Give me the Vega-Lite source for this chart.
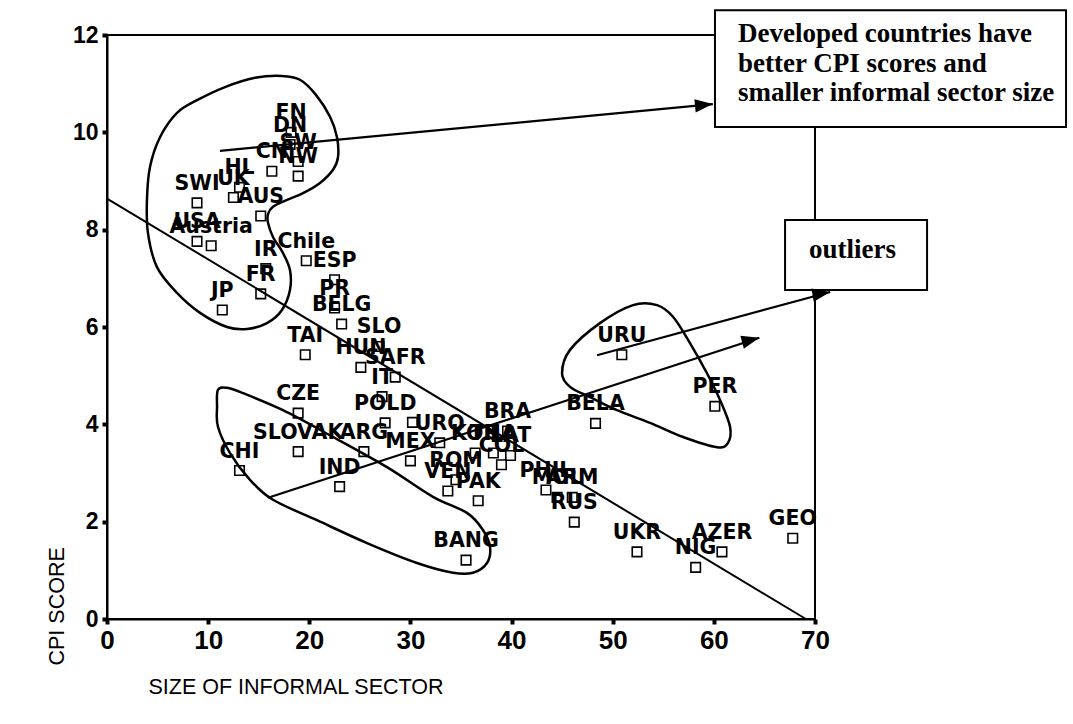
{
 "$schema": "https://vega.github.io/schema/vega-lite/v6.json",
 "width": 708, "height": 584,
 "autosize": {"type": "none"},
 "padding": {"left": 107, "top": 35, "right": 258, "bottom": 105},
 "background": "white",
 "config": {"view": {"stroke": "black", "strokeWidth": 2}},
 "datasets": {
  "pts": [
   {"c":"FN","x":18.2,"y":10.0},{"c":"DN","x":18.1,"y":9.75},{"c":"SW","x":18.9,"y":9.4},{"c":"CN","x":16.3,"y":9.2},{"c":"NW","x":18.9,"y":9.1},
   {"c":"HL","x":13.1,"y":8.87},{"c":"UK","x":12.5,"y":8.66},{"c":"SWI","x":8.9,"y":8.55},{"c":"AUS","x":15.2,"y":8.28},{"c":"USA","x":8.9,"y":7.76},
   {"c":"Austria","x":10.3,"y":7.67},{"c":"Chile","x":19.7,"y":7.36},{"c":"IR","x":15.7,"y":7.2},{"c":"ESP","x":22.5,"y":6.97},{"c":"FR","x":15.2,"y":6.68},
   {"c":"PR","x":22.5,"y":6.39},{"c":"JP","x":11.4,"y":6.35},{"c":"BELG","x":23.2,"y":6.06},{"c":"TAI","x":19.6,"y":5.43},{"c":"SLO","x":26.9,"y":5.6},
   {"c":"HUN","x":25.1,"y":5.17},{"c":"SAFR","x":28.5,"y":4.97},{"c":"IT","x":27.2,"y":4.57},{"c":"CZE","x":18.9,"y":4.23},{"c":"POLD","x":27.5,"y":4.03},
   {"c":"URU","x":50.9,"y":5.43},{"c":"PER","x":60.1,"y":4.37},{"c":"BELA","x":48.3,"y":4.02},{"c":"SLOVAK","x":18.9,"y":3.44},{"c":"ARG","x":25.4,"y":3.44},
   {"c":"CHI","x":13.1,"y":3.05},{"c":"IND","x":23.0,"y":2.72},{"c":"MEX","x":30.0,"y":3.25},{"c":"ROM","x":34.5,"y":2.86},{"c":"VEN","x":33.7,"y":2.63},
   {"c":"PAK","x":36.7,"y":2.43},{"c":"BANG","x":35.5,"y":1.21},{"c":"PHIL","x":43.4,"y":2.65},{"c":"RUS","x":46.2,"y":1.99},{"c":"UKR","x":52.4,"y":1.38},
   {"c":"NIG","x":58.2,"y":1.06},{"c":"AZER","x":60.8,"y":1.38},{"c":"GEO","x":67.8,"y":1.66},{"c":"URO","x":32.9,"y":3.62},{"c":"BRA","x":39.6,"y":3.86},
   {"c":"KOR","x":36.4,"y":3.41},{"c":"THA","x":38.2,"y":3.41},{"c":"LAT","x":39.9,"y":3.36},{"c":"COL","x":39.0,"y":3.17},{"c":"","x":30.2,"y":4.04},
   {"c":"MOL","x":44.5,"y":2.5},{"c":"ARM","x":46.0,"y":2.5}
  ],
  "loops": [
   {"g":1,"i":1,"x":17.3,"y":11.16},{"g":1,"i":2,"x":19.08,"y":11.08},{"g":1,"i":3,"x":20.66,"y":10.77},{"g":1,"i":4,"x":22.05,"y":10.32},{"g":1,"i":5,"x":22.74,"y":9.9},
   {"g":1,"i":6,"x":22.84,"y":9.49},{"g":1,"i":7,"x":22.35,"y":9.23},{"g":1,"i":8,"x":21.06,"y":8.96},{"g":1,"i":9,"x":19.38,"y":8.75},{"g":1,"i":10,"x":17.8,"y":8.61},
   {"g":1,"i":11,"x":16.41,"y":8.47},{"g":1,"i":12,"x":15.92,"y":8.32},{"g":1,"i":13,"x":15.92,"y":8.14},{"g":1,"i":14,"x":16.41,"y":7.85},{"g":1,"i":15,"x":17.4,"y":7.52},
   {"g":1,"i":16,"x":18.09,"y":7.17},{"g":1,"i":17,"x":18.09,"y":6.76},{"g":1,"i":18,"x":17.3,"y":6.35},{"g":1,"i":19,"x":15.82,"y":6.08},{"g":1,"i":20,"x":13.84,"y":5.96},
   {"g":1,"i":21,"x":11.86,"y":6.0},{"g":1,"i":22,"x":9.2,"y":6.29},{"g":1,"i":23,"x":6.92,"y":6.7},{"g":1,"i":24,"x":4.94,"y":7.23},{"g":1,"i":25,"x":4.05,"y":7.93},
   {"g":1,"i":26,"x":3.95,"y":8.61},{"g":1,"i":27,"x":4.25,"y":9.29},{"g":1,"i":28,"x":5.24,"y":9.9},{"g":1,"i":29,"x":6.92,"y":10.4},{"g":1,"i":30,"x":8.9,"y":10.66},
   {"g":1,"i":31,"x":11.67,"y":10.93},{"g":1,"i":32,"x":14.63,"y":11.12},
   {"g":2,"i":1,"x":10.97,"y":4.71},{"g":2,"i":2,"x":11.86,"y":4.75},{"g":2,"i":3,"x":13.45,"y":4.64},{"g":2,"i":4,"x":17.4,"y":4.29},{"g":2,"i":5,"x":22.35,"y":3.74},
   {"g":2,"i":6,"x":27.68,"y":3.12},{"g":2,"i":7,"x":32.23,"y":2.51},{"g":2,"i":8,"x":35.59,"y":2.18},{"g":2,"i":9,"x":37.17,"y":1.83},{"g":2,"i":10,"x":37.87,"y":1.48},
   {"g":2,"i":11,"x":37.57,"y":1.15},{"g":2,"i":12,"x":36.19,"y":0.95},{"g":2,"i":13,"x":34.21,"y":0.95},{"g":2,"i":14,"x":30.65,"y":1.15},{"g":2,"i":15,"x":25.71,"y":1.56},
   {"g":2,"i":16,"x":20.76,"y":2.03},{"g":2,"i":17,"x":16.41,"y":2.45},{"g":2,"i":18,"x":14.14,"y":2.86},{"g":2,"i":19,"x":12.16,"y":3.41},{"g":2,"i":20,"x":10.97,"y":3.95},
   {"g":2,"i":21,"x":10.88,"y":4.36},
   {"g":3,"i":1,"x":54.38,"y":6.45},{"g":3,"i":2,"x":55.96,"y":6.21},{"g":3,"i":3,"x":57.64,"y":5.67},{"g":3,"i":4,"x":59.32,"y":5.05},{"g":3,"i":5,"x":60.61,"y":4.5},
   {"g":3,"i":6,"x":61.6,"y":3.95},{"g":3,"i":7,"x":61.4,"y":3.62},{"g":3,"i":8,"x":60.31,"y":3.53},{"g":3,"i":9,"x":56.95,"y":3.74},{"g":3,"i":10,"x":53.69,"y":4.03},
   {"g":3,"i":11,"x":50.43,"y":4.29},{"g":3,"i":12,"x":47.76,"y":4.56},{"g":3,"i":13,"x":45.78,"y":4.77},{"g":3,"i":14,"x":44.99,"y":5.05},{"g":3,"i":15,"x":45.78,"y":5.53},
   {"g":3,"i":16,"x":48.74,"y":6.08},{"g":3,"i":17,"x":52.01,"y":6.45}
  ],
  "fit": [{"x":0,"y":8.64},{"x":69.1,"y":0}],
  "arrows": [
   {"a":"a1","x":11.17,"y":9.62,"x2":59.9,"y2":10.58},
   {"a":"a2","x":48.45,"y":5.42,"x2":71.5,"y2":6.72},
   {"a":"a3","x":15.92,"y":2.49,"x2":64.5,"y2":5.78}
  ],
  "boxes": [
   {"b":"b1","x":60.11,"x2":94.82,"y":12.51,"y2":10.11},
   {"b":"b2","x":67.04,"x2":81.08,"y":8.2,"y2":6.76}
  ],
  "boxtext": [
   {"t":"Developed countries have","x":62.39,"y":11.86},
   {"t":"better CPI scores and","x":62.39,"y":11.24},
   {"t":"smaller informal sector size","x":62.39,"y":10.64},
   {"t":"outliers","x":69.4,"y":7.42}
  ]
 },
 "encoding": {
  "x": {"field": "x", "type": "quantitative", "scale": {"domain": [0, 70], "nice": false, "zero": false},
   "axis": {"values": [0,10,20,30,40,50,60,70], "title": "SIZE OF INFORMAL SECTOR", "titleFont": "Liberation Sans", "titleFontSize": 21.5, "titleFontWeight": "normal", "titleColor": "black",
    "titleAnchor": "start", "titleAlign": "left", "titleBaseline": "alphabetic", "titleX": 41, "titleY": 74,
    "labelFont": "Liberation Sans", "labelFontSize": 26, "labelFontWeight": "bold", "labelColor": "black", "labelPadding": 3, "labelFlush": false, "labelOverlap": false,
    "domainColor": "black", "domainWidth": 2, "tickColor": "black", "tickWidth": 4, "tickSize": 5, "grid": false}},
  "y": {"field": "y", "type": "quantitative", "scale": {"domain": [0, 12], "nice": false, "zero": false},
   "axis": {"values": [0,2,4,6,8,10,12], "title": "CPI SCORE", "titleFont": "Liberation Sans", "titleFontSize": 21.5, "titleFontWeight": "normal", "titleColor": "black",
    "titleAngle": 270, "titleAnchor": "start", "titleAlign": "left", "titleBaseline": "middle", "titleX": -50, "titleY": 630,
    "labelFont": "Liberation Sans", "labelFontSize": 23, "labelFontWeight": "bold", "labelColor": "black", "labelPadding": 4, "labelFlush": false, "labelOverlap": false,
    "domainColor": "black", "domainWidth": 2, "tickColor": "black", "tickWidth": 4, "tickSize": 5, "grid": false}}
 },
 "layer": [
  {"data": {"name": "loops"}, "mark": {"type": "line", "interpolate": "cardinal-closed", "stroke": "black", "strokeWidth": 2.5, "clip": false},
   "encoding": {"detail": {"field": "g"}, "order": {"field": "i", "type": "quantitative"}}},
  {"data": {"name": "fit"}, "mark": {"type": "line", "stroke": "black", "strokeWidth": 2}, "encoding": {}},
  {"data": {"name": "arrows"}, "mark": {"type": "rule", "stroke": "black", "strokeWidth": 2.2, "clip": false},
   "encoding": {"x2": {"field": "x2"}, "y2": {"field": "y2"}}},
  {"data": {"name": "pts"}, "mark": {"type": "point", "shape": "square", "size": 90, "filled": false, "stroke": "black", "strokeWidth": 1.6, "opacity": 1}, "encoding": {}},
  {"data": {"name": "pts"}, "mark": {"type": "text", "font": "DejaVu Sans", "fontWeight": "bold", "fontSize": 20.5, "align": "center", "baseline": "alphabetic", "dy": -13, "color": "black"},
   "encoding": {"text": {"field": "c"}}},
  {"data": {"name": "boxes"}, "mark": {"type": "rect", "fill": "white", "stroke": "black", "strokeWidth": 2, "clip": false},
   "encoding": {"x2": {"field": "x2"}, "y2": {"field": "y2"}}},
  {"data": {"name": "boxtext"}, "mark": {"type": "text", "font": "Liberation Serif", "fontSize": 27, "fontWeight": "bold", "align": "left", "baseline": "alphabetic", "color": "black", "clip": false},
   "encoding": {"text": {"field": "t"}}},
  {"data": {"name": "arrows"}, "mark": {"type": "point", "shape": "M0,0L-2,-0.75L-2,0.75Z", "size": 320, "filled": true, "color": "black", "opacity": 1, "clip": false},
   "encoding": {"x": {"field": "x2"}, "y": {"field": "y2"},
    "angle": {"field": "a", "type": "nominal", "scale": {"domain": ["a1","a2","a3"], "range": [354.5, 345, 342]}, "legend": null}}}
 ]
}
